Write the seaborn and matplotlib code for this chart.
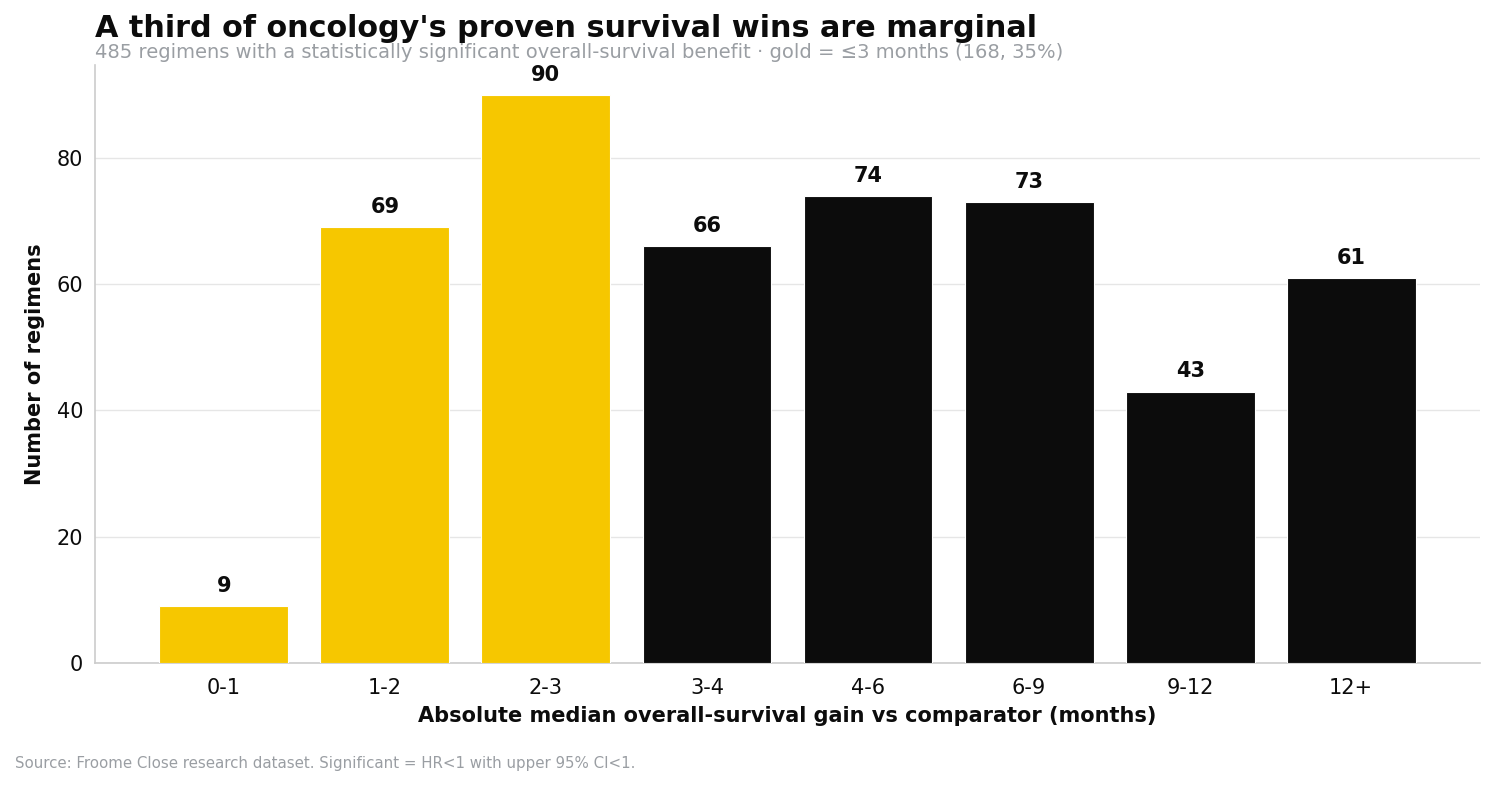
import numpy as np
import pandas as pd
import matplotlib
matplotlib.use("Agg")
import matplotlib.pyplot as plt
import seaborn as sns

# data
bins = ["0-1", "1-2", "2-3", "3-4", "4-6", "6-9", "9-12", "12+"]
counts = [9, 69, 90, 66, 74, 73, 43, 61]
marginal = [True, True, True, False, False, False, False, False]

GOLD = "#F6C700"
BLACK = "#0C0C0C"
GREY = "#9A9EA3"

df = pd.DataFrame({"bin": bins, "count": counts,
                   "group": ["gold" if m else "black" for m in marginal]})

sns.set_style("white")
plt.rcParams['font.family'] = ['DejaVu Sans']

fig = plt.figure(figsize=(14.95, 7.85), dpi=100)
ax = fig.add_axes([0.0635, 0.1554, 0.9265, 0.7616])

sns.barplot(data=df, x="bin", y="count", hue="group",
            palette={"gold": GOLD, "black": BLACK}, saturation=1,
            dodge=False, width=0.8, edgecolor="white", linewidth=0.8,
            legend=False, ax=ax, zorder=3)

for i, v in enumerate(counts):
    ax.text(i, v + 1.6, str(v), ha="center", va="bottom",
            fontsize=15, fontweight="bold", color=BLACK)

ax.set_xlim(-0.8, 7.8)
ax.set_ylim(0, 94.7)
ax.set_yticks([0, 20, 40, 60, 80])
ax.yaxis.grid(True, color="#E6E6E6", linewidth=1, zorder=0)
ax.set_axisbelow(True)

for s in ["top", "right"]:
    ax.spines[s].set_visible(False)
for s in ["left", "bottom"]:
    ax.spines[s].set_color("#CCCCCC")
    ax.spines[s].set_linewidth(1.2)

ax.tick_params(axis="both", which="both", length=5, width=1.2,
               color="#333333", labelsize=15, labelcolor=BLACK)
ax.tick_params(axis="x", pad=5.5)
ax.set_xlabel("Absolute median overall-survival gain vs comparator (months)",
              fontsize=15, fontweight="bold", color=BLACK, labelpad=6)
ax.set_ylabel("Number of regimens", fontsize=15, fontweight="bold",
              color=BLACK, labelpad=8)

fig.text(0.0635, 0.982, "A third of oncology's proven survival wins are marginal",
         fontsize=21.8, fontweight="bold", color=BLACK, ha="left", va="top")
fig.text(0.0635, 0.921,
         "485 regimens with a statistically significant overall-survival benefit \u00b7 gold = \u22643 months (168, 35%)",
         fontsize=14.05, color=GREY, ha="left", va="bottom")
fig.text(0.010, 0.028,
         "Source: Froome Close research dataset. Significant = HR<1 with upper 95% CI<1.",
         fontsize=10.8, color=GREY, ha="left", va="center")

fig.savefig("out.png", dpi=100)
